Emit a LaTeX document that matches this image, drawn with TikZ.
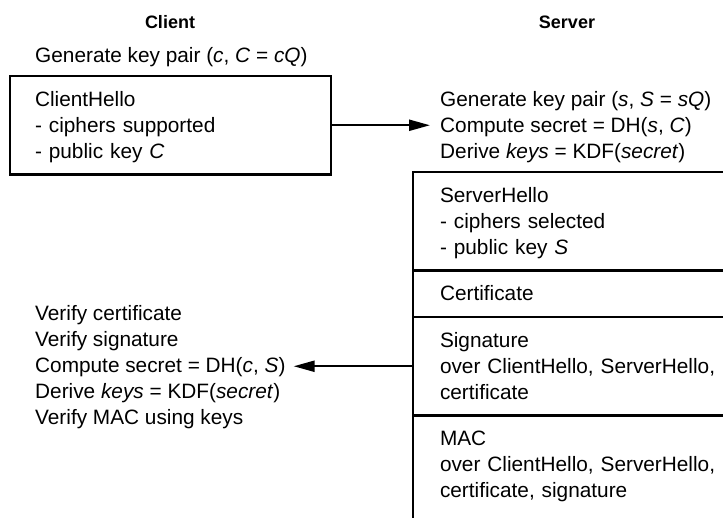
\documentclass[tikz,border=0pt]{standalone}
\usepackage{fontspec}
\setmainfont{Liberation Sans}
\usetikzlibrary{arrows.meta}
\newcommand\topgap{\rule{0pt}{30pt}}
\newcommand\botgap[1][16.5pt]{\rule[-#1]{0pt}{#1}}
\begin{document}
\begin{tikzpicture}[x=1pt,y=-1pt,
  body/.style={font=\fontsize{20.8pt}{26pt}\selectfont},
  ttl/.style={font=\fontsize{18pt}{22pt}\selectfont\bfseries, inner sep=0pt},
  txtblock/.style={body, inner sep=0pt, align=left, anchor=north west},
  msgbox/.style={body, draw, line width=2.2pt, align=left, anchor=north west, inner ysep=0pt, outer sep=0pt},
  clibox/.style={msgbox, text width=271pt, inner xsep=25pt},
  srvbox/.style={msgbox, text width=300pt, inner xsep=27pt},
  arr/.style={line width=2.2pt, -{Triangle[length=21pt,width=11pt]}}
]
\useasboundingbox (0,0) rectangle (723,517);
\clip (0,0) rectangle (723,517);

\node[ttl, anchor=base] (tcli) at (170,28.5) {Client};
\node[ttl, anchor=base] (tsrv) at (567,28.5) {Server};
\node[body, inner sep=0pt, anchor=base west] (genc) at (35,62.5) {Generate key pair (\textit{c}, \textit{C} = \textit{cQ})};

\node[clibox] (chello) at (10,76) {\topgap ClientHello\\- ciphers supported\\- public key \textit{C}\botgap};

\node[txtblock] (srvops) at (440,76) {\topgap Generate key pair (\textit{s}, \textit{S} = \textit{sQ})\\Compute secret = DH(\textit{s}, \textit{C})\\Derive \textit{keys} = KDF(\textit{secret})\botgap};

\node[srvbox] (shello) at (413,172) {\topgap ServerHello\\- ciphers selected\\- public key \textit{S}\botgap};
\node[srvbox] (cert) at (shello.south west) {\topgap Certificate\botgap};
\node[srvbox] (sig) at (cert.south west) {\topgap Signature\\over ClientHello, ServerHello,\\certificate\botgap};
\node[srvbox] (mac) at (sig.south west) {\topgap MAC\\over ClientHello, ServerHello,\\certificate, signature\botgap[40pt]};

\node[txtblock] (cver) at (35,290.5) {\topgap Verify certificate\\Verify signature\\Compute secret = DH(\textit{c}, \textit{S})\\Derive \textit{keys} = KDF(\textit{secret})\\Verify MAC using keys\botgap};

\draw[arr] (chello.east) -- ([xshift=-10pt]chello.east -| srvops.west);
\draw[arr] (sig.west) -- ([xshift=8pt]sig.west -| cver.east);
\end{tikzpicture}
\end{document}
